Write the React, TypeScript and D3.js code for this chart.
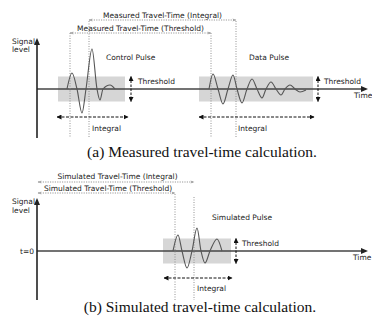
import React from "react";
import * as d3 from "d3";

// ---- data (time offset from t=0 axis, signal level) ----
const controlPulse: [number, number][] = [
  [30, 0], [35, 16], [40, 0], [45, -24], [49, 0], [55, 40], [60, 0],
  [63, -11], [66, 0], [73, 4], [78, 0],
];
const dataPulse: [number, number][] = [
  [172, 0], [176, 15], [181, 0], [186, -15], [191, 0], [196, 14], [200, 0],
  [205, -14], [210, 0], [215, 10], [220, 0], [225, -9], [229, 0], [234, 7],
  [239, 0], [244, -6], [248, 0], [253, 4], [258, 0], [263, -3], [269, -1],
];
const simPulse: [number, number][] = [
  [136, 0], [141, 16], [145, 0], [150, -17], [155, 0], [160, 23], [164, 0],
  [168, -12], [173, 0], [180, 12], [185, 0],
];
const threshold = 12.5;
// windows [start, end]
const controlBox: [number, number] = [21, 88];
const dataBox: [number, number] = [162, 276];
const simBox: [number, number] = [126, 194];
const controlIntegral: [number, number] = [20, 91];
const dataIntegral: [number, number] = [162, 277];
const simIntegral: [number, number] = [127, 195];
// picks: [threshold crossing, integral]
const controlPicks: [number, number] = [33, 52];
const dataPicks: [number, number] = [174, 199];
const simPicks: [number, number] = [138, 157];
const thresholdArrowX = { control: 94, data: 281, sim: 199 };

const FONT = "DejaVu Sans, Verdana, sans-serif";
const TXT = "#222";

const W = 372, H = 325;
const x = d3.scaleLinear().domain([0, 331]).range([37, 368]);
const yTop = d3.scaleLinear().domain([-50, 50]).range([139, 39]);
const yBot = d3.scaleLinear().domain([-50, 50]).range([301, 201]);

const line = (ys: d3.ScaleLinear<number, number>) =>
  d3.line<[number, number]>().x(d => x(d[0])).y(d => ys(d[1])).curve(d3.curveMonotoneX);

function Box({ win, ys }: { win: [number, number]; ys: d3.ScaleLinear<number, number> }) {
  return (
    <rect x={x(win[0])} y={ys(threshold)} width={x(win[1]) - x(win[0])}
      height={ys(-threshold) - ys(threshold)} fill="#d6d6d6" />
  );
}

function Axes({ ys, top, bottom }: { ys: d3.ScaleLinear<number, number>; top: number; bottom: number }) {
  const y0 = ys(0);
  return (
    <g>
      <line x1={x(0)} x2={x(331) - 4} y1={y0} y2={y0} stroke="#444" strokeWidth={1.4} />
      <path d={`M${x(331)},${y0} l-7,-3 l0,6 z`} fill="#222" />
      <line x1={x(0)} x2={x(0)} y1={bottom} y2={top + 5} stroke="#222" strokeWidth={1.6} />
      <path d={`M${x(0)},${top} l-3,7 l6,0 z`} fill="#222" />
    </g>
  );
}

function App() {
  const tt = 7.5;
  return (
    <svg width={W} height={H} style={{ position: "absolute", left: 0, top: 0, background: "#fff" }}
      fontFamily={FONT}>
      <defs>
        <marker id="ab" viewBox="0 0 10 10" refX="9" refY="5" markerWidth="5" markerHeight="5"
          orient="auto-start-reverse" markerUnits="userSpaceOnUse">
          <path d="M0,0 L10,5 L0,10 z" fill="#111" />
        </marker>
        <marker id="ag" viewBox="0 0 10 10" refX="9" refY="5" markerWidth="6" markerHeight="4"
          orient="auto-start-reverse" markerUnits="userSpaceOnUse">
          <path d="M0,1 L10,5 L0,9 L3,5 z" fill="#999" />
        </marker>
      </defs>

      {/* ---------- top panel ---------- */}
      <Box win={controlBox} ys={yTop} />
      <Box win={dataBox} ys={yTop} />
      <Axes ys={yTop} top={38} bottom={138} />
      {[...controlPicks, ...dataPicks].map((p, i) => (
        <line key={"vt" + i} x1={x(p)} x2={x(p)} y1={i % 2 === 0 ? 33 : 21} y2={138}
          stroke="#888" strokeWidth={0.9} strokeDasharray="1,1.5" />
      ))}
      <path d={line(yTop)(controlPulse) || ""} fill="none" stroke="#555" strokeWidth={1.1} />
      <path d={line(yTop)(dataPulse) || ""} fill="none" stroke="#555" strokeWidth={1.1} />

      {/* travel-time arrows */}
      <line x1={x(controlPicks[1])} x2={x(dataPicks[1])} y1={20} y2={20} stroke="#999"
        strokeDasharray="1.2,1.2" markerStart="url(#ag)" markerEnd="url(#ag)" />
      <text x={(x(controlPicks[1]) + x(dataPicks[1])) / 2} y={17.5} textAnchor="middle" fontSize={tt} fill={TXT}>
        Measured Travel-Time (Integral)</text>
      <line x1={x(controlPicks[0])} x2={x(dataPicks[0])} y1={33} y2={33} stroke="#999"
        strokeDasharray="1.2,1.2" markerStart="url(#ag)" markerEnd="url(#ag)" />
      <text x={(x(controlPicks[0]) + x(dataPicks[0])) / 2} y={30.5} textAnchor="middle" fontSize={tt} fill={TXT}>
        Measured Travel-Time (Threshold)</text>

      {/* threshold arrows */}
      {[thresholdArrowX.control, thresholdArrowX.data].map((t, i) => (
        <line key={"ta" + i} x1={x(t)} x2={x(t)} y1={yTop(threshold)} y2={yTop(-threshold)} stroke="#111"
          strokeWidth={1} strokeDasharray="2.5,1.5" markerStart="url(#ab)" markerEnd="url(#ab)" />
      ))}
      <text x={x(thresholdArrowX.control) + 7} y={84} fontSize={tt} fill={TXT}>Threshold</text>
      <text x={x(thresholdArrowX.data) + 6} y={84} fontSize={tt} fill={TXT}>Threshold</text>

      {/* integral arrows */}
      {[controlIntegral, dataIntegral].map((w, i) => (
        <line key={"ia" + i} x1={x(w[0])} x2={x(w[1])} y1={117} y2={117} stroke="#111"
          strokeWidth={1} strokeDasharray="3,1.5" markerStart="url(#ab)" markerEnd="url(#ab)" />
      ))}
      <text x={x(controlPicks[1]) + 3} y={131} fontSize={tt} fill={TXT}>Integral</text>
      <text x={x(dataPicks[1]) + 2} y={131} fontSize={tt} fill={TXT}>Integral</text>

      <text x={106} y={60} fontSize={tt} fill={TXT}>Control Pulse</text>
      <text x={249} y={60} fontSize={tt} fill={TXT}>Data Pulse</text>
      <text x={354} y={98} fontSize={tt} fill={TXT}>Time</text>
      <text x={12} y={44} fontSize={tt} fill={TXT}>Signal</text>
      <text x={12} y={52} fontSize={tt} fill={TXT}>level</text>

      <text x={202} y={157} textAnchor="middle" fontFamily="Liberation Serif, Times New Roman, serif"
        fontSize={15.5} fill="#111">(a) Measured travel-time calculation.</text>

      {/* ---------- bottom panel ---------- */}
      <Box win={simBox} ys={yBot} />
      <Axes ys={yBot} top={198} bottom={300} />
      {simPicks.map((p, i) => (
        <line key={"vb" + i} x1={x(p)} x2={x(p)} y1={i === 0 ? 194 : 197} y2={300}
          stroke="#888" strokeWidth={0.9} strokeDasharray="1,1.5" />
      ))}
      <path d={line(yBot)(simPulse) || ""} fill="none" stroke="#555" strokeWidth={1.1} />

      <line x1={x(0) + 1} x2={x(simPicks[1])} y1={182} y2={182} stroke="#999"
        strokeDasharray="1.2,1.2" markerStart="url(#ag)" markerEnd="url(#ag)" />
      <text x={(x(0) + x(simPicks[1])) / 2 + 2} y={179} textAnchor="middle" fontSize={tt} fill={TXT}>
        Simulated Travel-Time (Integral)</text>
      <line x1={x(0) + 1} x2={x(simPicks[0])} y1={193} y2={193} stroke="#999"
        strokeDasharray="1.2,1.2" markerStart="url(#ag)" markerEnd="url(#ag)" />
      <text x={(x(0) + x(simPicks[0])) / 2 + 2} y={190.5} textAnchor="middle" fontSize={tt} fill={TXT}>
        Simulated Travel-Time (Threshold)</text>

      <line x1={x(thresholdArrowX.sim)} x2={x(thresholdArrowX.sim)} y1={yBot(threshold)} y2={yBot(-threshold)}
        stroke="#111" strokeWidth={1} strokeDasharray="2.5,1.5" markerStart="url(#ab)" markerEnd="url(#ab)" />
      <text x={x(thresholdArrowX.sim) + 6} y={246} fontSize={tt} fill={TXT}>Threshold</text>
      <line x1={x(simIntegral[0])} x2={x(simIntegral[1])} y1={278} y2={278} stroke="#111"
        strokeWidth={1} strokeDasharray="3,1.5" markerStart="url(#ab)" markerEnd="url(#ab)" />
      <text x={x(simPicks[1]) + 3} y={291} fontSize={tt} fill={TXT}>Integral</text>
      <text x={212} y={220} fontSize={tt} fill={TXT}>Simulated Pulse</text>
      <text x={353} y={260} fontSize={tt} fill={TXT}>Time</text>
      <text x={12} y={204} fontSize={tt} fill={TXT}>Signal</text>
      <text x={12} y={213} fontSize={tt} fill={TXT}>level</text>
      <text x={34} y={254} textAnchor="end" fontSize={tt} fill={TXT}>t=0</text>

      <text x={200} y={312} textAnchor="middle" fontFamily="Liberation Serif, Times New Roman, serif"
        fontSize={15.5} fill="#111">(b) Simulated travel-time calculation.</text>
    </svg>
  );
}

export default App;
